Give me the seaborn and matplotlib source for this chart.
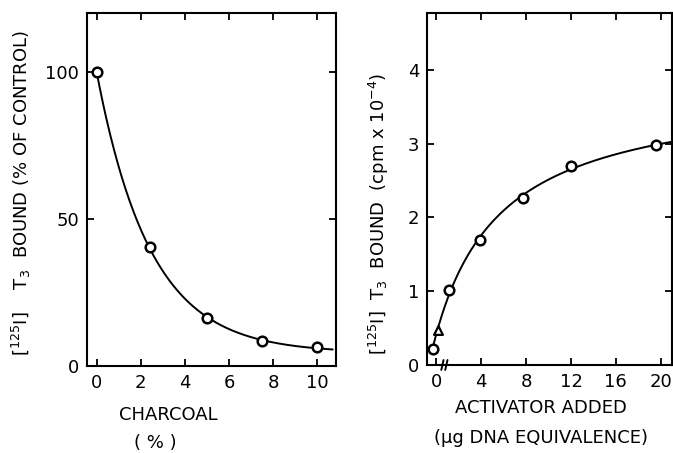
import numpy as np
import pandas as pd
import matplotlib
matplotlib.use("Agg")
import matplotlib.pyplot as plt
import seaborn as sns

# Left panel: charcoal concentration vs. T3 bound
charcoal_pct = [0.0, 2.4, 5.0, 7.5, 10.0]
t3_bound_pct = [100.0, 40.5, 16.2, 8.4, 6.6]

# Right panel: activator added vs. T3 bound
activator_ug = [-0.3, 1.1, 3.9, 7.7, 12.0, 19.6]
t3_bound_cpm = [0.22, 1.02, 1.69, 2.26, 2.70, 2.98]
activator_tri_ug = [0.15]
t3_bound_tri_cpm = [0.48]

left_xticks = [0, 2, 4, 6, 8, 10]
left_yticks = [0, 50, 100]
right_xticks = [0, 4, 8, 12, 16, 20]
right_yticks = [0, 1, 2, 3, 4]


def fit_exp_decay(x, y):
    """Least-squares fit of y = c + a*exp(-k x), scanning k."""
    x = np.asarray(x); y = np.asarray(y)
    best = None
    for k in np.linspace(0.05, 2.0, 800):
        A = np.column_stack([np.exp(-k * x), np.ones_like(x)])
        coef, *_ = np.linalg.lstsq(A, y, rcond=None)
        sse = np.sum((A @ coef - y) ** 2)
        if best is None or sse < best[0]:
            best = (sse, k, coef)
    _, k, (a, c) = best
    return lambda t: c + a * np.exp(-k * t)


def fit_saturation(x, y):
    """Least-squares fit of y = b + V*(x+s)/(K+x+s), scanning K and s."""
    x = np.asarray(x); y = np.asarray(y)
    best = None
    for s in np.linspace(0.31, 2.0, 60):
        for K in np.linspace(0.5, 20.0, 200):
            u = (x + s) / (K + x + s)
            A = np.column_stack([u, np.ones_like(x)])
            coef, *_ = np.linalg.lstsq(A, y, rcond=None)
            sse = np.sum((A @ coef - y) ** 2)
            if best is None or sse < best[0]:
                best = (sse, s, K, coef)
    _, s, K, (V, b) = best
    return lambda t: b + V * (t + s) / (K + t + s)


sns.set_theme(style="ticks")
plt.rcParams.update({
    "font.family": ["DejaVu Sans"],
    "mathtext.default": "regular",
    "text.color": "black",
    "axes.labelcolor": "black",
    "axes.edgecolor": "black",
    "xtick.color": "black",
    "ytick.color": "black",
    "axes.linewidth": 1.5,
    "xtick.direction": "in",
    "ytick.direction": "in",
    "xtick.major.size": 5,
    "ytick.major.size": 5,
    "xtick.major.width": 1.3,
    "ytick.major.width": 1.3,
    "xtick.top": True,
    "ytick.right": True,
    "font.size": 13,
})

fig = plt.figure(figsize=(6.73, 4.53), dpi=100)
axL = fig.add_axes([0.1297, 0.192, 0.3696, 0.7793])
axR = fig.add_axes([0.6352, 0.1943, 0.3633, 0.7770])

marker_kw = dict(marker="o", s=48, facecolor="white", edgecolor="black",
                 linewidth=1.8, zorder=3)

# ---- left panel ----
fL = fit_exp_decay(charcoal_pct, t3_bound_pct)
xs = np.linspace(charcoal_pct[0], 10.7, 300)
sns.lineplot(x=xs, y=fL(xs), ax=axL, color="black", lw=1.4)
sns.scatterplot(x=charcoal_pct, y=t3_bound_pct, ax=axL, **marker_kw)
axL.set_xlim(-0.42, 10.85)
axL.set_ylim(0, 120)
axL.set_xticks(left_xticks)
axL.set_yticks(left_yticks)
axL.set_xlabel("")
axL.set_ylabel(r"[$^{125}$I]    T$_3$  BOUND (% OF CONTROL)", fontsize=13)
axL.yaxis.set_label_coords(-0.218, 0.49)
axL.tick_params(labelsize=13, pad=6)

fig.text(168 / 673, 1 - 415 / 453, "CHARCOAL", ha="center", va="center", fontsize=13)
fig.text(155 / 673, 1 - 443 / 453, "( % )", ha="center", va="center", fontsize=13)

# ---- right panel ----
fR = fit_saturation(activator_ug + activator_tri_ug, t3_bound_cpm + t3_bound_tri_cpm)
xr = np.linspace(activator_ug[0], 21.0, 400)
sns.lineplot(x=xr, y=fR(xr), ax=axR, color="black", lw=1.4)
sns.scatterplot(x=activator_ug, y=t3_bound_cpm, ax=axR, **marker_kw)
sns.scatterplot(x=activator_tri_ug, y=t3_bound_tri_cpm, ax=axR, marker="^", s=40,
                facecolor="white", edgecolor="black", linewidth=1.6, zorder=3)
axR.set_xlim(-0.78, 21.0)
axR.set_ylim(0, 4.77)
axR.set_xticks(right_xticks)
axR.set_yticks(right_yticks)
axR.set_xlabel("")
axR.set_ylabel(r"[$^{125}$I]  T$_3$  BOUND  (cpm x 10$^{-4}$)", fontsize=13)
axR.yaxis.set_label_coords(-0.15, 0.43)
axR.tick_params(labelsize=13, pad=6)

# axis break marks on the activator axis
trans = axR.get_xaxis_transform()
for x0 in (0.45, 0.8):
    axR.plot([x0, x0 + 0.2], [-0.014, 0.014], transform=trans, color="black",
             lw=1.4, clip_on=False)

fig.text(541 / 673, 1 - 408 / 453, "ACTIVATOR ADDED", ha="center", va="center", fontsize=13)
fig.text(541 / 673, 1 - 438 / 453, "(\u03bcg DNA EQUIVALENCE)", ha="center", va="center", fontsize=13)

fig.savefig("out.png", dpi=100)
